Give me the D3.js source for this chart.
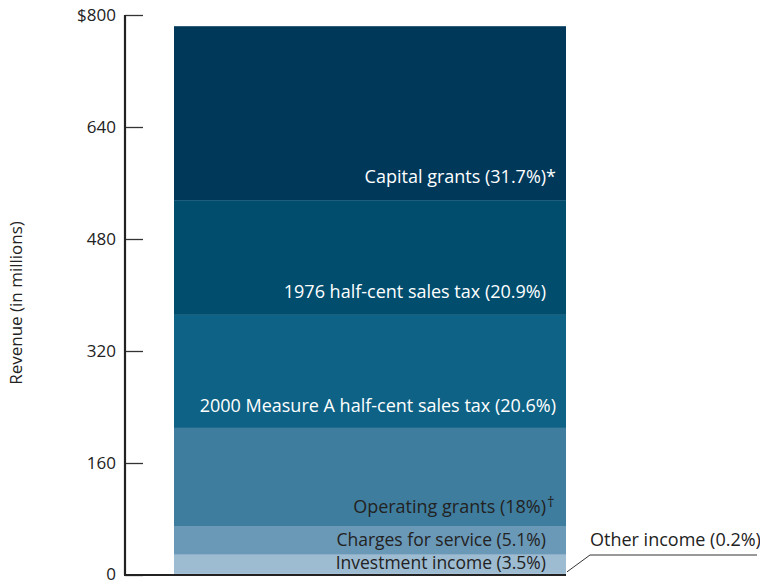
<!DOCTYPE html>
<html>
<head>
<meta charset="utf-8">
<script src="https://cdn.jsdelivr.net/npm/d3@7"></script>
<style>
  body { margin:0; background:#fff; }
  text { font-family:"Open Sans", "Noto Sans", sans-serif; }
</style>
</head>
<body>
<script>
// revenue sources, bottom to top (millions)
var categories = ['Other income', 'Investment income', 'Charges for service', 'Operating grants',
                  '2000 Measure A half-cent sales tax', '1976 half-cent sales tax', 'Capital grants'];
var values = [1.6, 27.4, 40.0, 141.1, 161.5, 163.9, 248.5];
var labels = ['Other income (0.2%)', 'Investment income (3.5%)', 'Charges for service (5.1%)',
              'Operating grants (18%)', '2000 Measure A half-cent sales tax (20.6%)',
              '1976 half-cent sales tax (20.9%)', 'Capital grants (31.7%)*'];
var marks = ['', '', '', '\u2020', '', '', ''];
var tickValues = [0, 160, 320, 480, 640, 800];
var colors = ['#9dbcd2', '#9dbcd2', '#6a98b7', '#3f7d9e', '#0e6285', '#004d6e', '#00385a'];

var screen = { width:760, height:586 };
var svg = d3.select('body').append('svg')
            .attr('width', screen.width)
            .attr('height', screen.height);

var yScale = d3.scaleLinear().domain([0, 800]).range([575, 15]);
var axisX = 125;
var barLeft = 174, barRight = 566;

// stack
var stacked = [];
var acc = 0;
values.forEach(function(v, i){
  stacked.push({ name:categories[i], label:labels[i], mark:marks[i], y0:acc, y1:acc + v, color:colors[i] });
  acc += v;
});

svg.selectAll('rect.seg')
   .data(stacked)
   .enter()
   .append('rect')
   .classed('seg', true)
   .attr('x', barLeft)
   .attr('y', function(d){ return yScale(d.y1); })
   .attr('width', barRight - barLeft)
   .attr('height', function(d){ return yScale(d.y0) - yScale(d.y1); })
   .attr('fill', function(d){ return d.color; });

// axis
var axis = d3.axisRight(yScale).tickValues(tickValues).tickSize(18).tickFormat('');
var axisG = svg.append('g')
               .attr('transform', 'translate(' + axisX + ',0)')
               .call(axis);
axisG.select('.domain').remove();
axisG.selectAll('.tick line').attr('stroke', '#333').attr('stroke-width', 1.3);
svg.append('line')
   .attr('x1', axisX).attr('x2', axisX)
   .attr('y1', yScale(800)).attr('y2', yScale(0))
   .attr('stroke', '#222').attr('stroke-width', 2.2);
svg.append('line')
   .attr('x1', axisX - 1).attr('x2', barRight)
   .attr('y1', yScale(0)).attr('y2', yScale(0))
   .attr('stroke', '#222').attr('stroke-width', 2.2);

svg.selectAll('text.tick-label')
   .data(tickValues)
   .enter()
   .append('text')
   .classed('tick-label', true)
   .attr('x', 116)
   .attr('y', function(d){ return d === 0 ? yScale(d) - 1 : yScale(d); })
   .attr('dy', '0.35em')
   .attr('text-anchor', 'end')
   .attr('font-size', 17)
   .attr('fill', '#222')
   .text(function(d){ return d === 800 ? '$800' : d; });

svg.append('text')
   .attr('transform', 'translate(22,' + 303 + ') rotate(-90)')
   .attr('text-anchor', 'middle')
   .attr('font-size', 17)
   .attr('fill', '#222')
   .text('Revenue (in millions)');

// segment labels
var labelOffsets = { 'Capital grants':17, '1976 half-cent sales tax':17,
                     '2000 Measure A half-cent sales tax':16, 'Operating grants':14,
                     'Charges for service':9, 'Investment income':5 };
var labelEnds = { 'Capital grants':556, '1976 half-cent sales tax':546,
                  '2000 Measure A half-cent sales tax':556, 'Operating grants':546,
                  'Charges for service':546, 'Investment income':546 };
stacked.forEach(function(d, i){
  if (d.name === 'Other income') return;
  var dark = i < 4;
  var small = i < 3;
  svg.append('text')
     .attr('x', labelEnds[d.name])
     .attr('y', yScale(d.y0) - labelOffsets[d.name])
     .attr('text-anchor', 'end')
     .attr('font-size', small ? 17.5 : 18)
     .attr('fill', dark ? '#222' : '#fff')
     .text(d.label);
  if (d.mark){
    svg.append('text')
       .attr('x', labelEnds[d.name] + 1)
       .attr('y', yScale(d.y0) - labelOffsets[d.name] - 6)
       .attr('font-size', 15)
       .attr('fill', dark ? '#222' : '#fff')
       .text(d.mark);
  }
});

// other income callout
var other = stacked[0];
svg.append('text')
   .attr('x', 590)
   .attr('y', 546)
   .attr('font-size', 18)
   .attr('fill', '#222')
   .text(other.label);
svg.append('polyline')
   .attr('points', (barRight + 1) + ',' + (yScale(other.y1) - 2) + ' 590,555 757,555')
   .attr('fill', 'none')
   .attr('stroke', '#333')
   .attr('stroke-width', 1);
</script>
</body>
</html>
